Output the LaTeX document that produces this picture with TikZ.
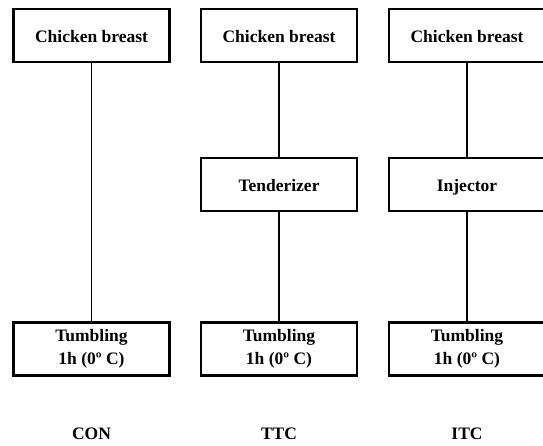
\documentclass[tikz,border=0pt]{standalone}
\usepackage{fontspec}
\setmainfont{Liberation Serif}
\begin{document}
\begin{tikzpicture}[x=1pt,y=-1pt,
  stepbox/.style={draw=black,line width=2.6pt,rectangle,minimum width=156pt,minimum height=53pt,
    inner sep=0pt,align=center,font=\bfseries\fontsize{17.5}{22.5}\selectfont},
  onebox/.style={stepbox,text height=13.5pt,text depth=0pt},
  grouplabel/.style={inner sep=0pt,font=\bfseries\fontsize{17.5}{22}\selectfont},
  conn/.style={line width=1.3pt}]
\useasboundingbox (0,0) rectangle (543,446);
% column 1
\node[onebox] (t1) at (91.5,35.5) {Chicken breast};
\node[stepbox] (b1) at (91.5,349) {Tumbling\\1h (0º C)};
\node[grouplabel] (l1) at (91.5,434) {CON};
% column 2
\node[onebox] (t2) at (279,35.5) {Chicken breast};
\node[onebox] (m2) at (279,184.5) {Tenderizer};
\node[stepbox] (b2) at (279,349) {Tumbling\\1h (0º C)};
\node[grouplabel] (l2) at (279,434) {TTC};
% column 3
\node[onebox] (t3) at (467,35.5) {Chicken breast};
\node[onebox] (m3) at (467,184.5) {Injector};
\node[stepbox] (b3) at (467,349) {Tumbling\\1h (0º C)};
\node[grouplabel] (l3) at (467,434) {ITC};
% connectors
\draw[conn] (t1) -- (b1);
\draw[conn] (t2) -- (m2);
\draw[conn] (m2) -- (b2);
\draw[conn] (t3) -- (m3);
\draw[conn] (m3) -- (b3);
\end{tikzpicture}
\end{document}
